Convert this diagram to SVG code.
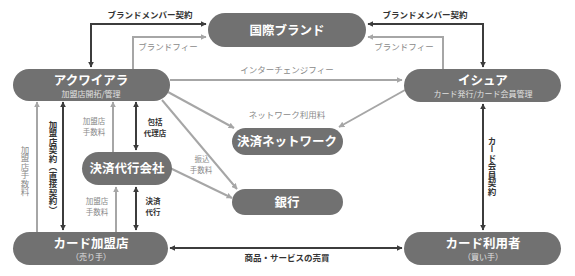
<svg xmlns="http://www.w3.org/2000/svg" width="575" height="276" viewBox="0 0 575 276">
<defs>
<marker id="ad" viewBox="0 0 10 10" refX="9" refY="5" markerWidth="6" markerHeight="6" markerUnits="userSpaceOnUse" orient="auto-start-reverse"><path d="M0,0 L10,5 L0,10 z" fill="#3c3c3c"/></marker>
<marker id="ag" viewBox="0 0 10 10" refX="9" refY="5" markerWidth="6" markerHeight="6" markerUnits="userSpaceOnUse" orient="auto-start-reverse"><path d="M0,0 L10,5 L0,10 z" fill="#a6a6a6"/></marker>
</defs>
<style>
text{font-family:"Noto Sans CJK JP","Noto Sans",sans-serif;text-anchor:middle}
.node rect{fill:#717171}
.t{fill:#fff;font-weight:bold;font-size:12.5px}
.s{fill:#e0e0e0;font-size:8px}
.d{fill:none;stroke:#3c3c3c;stroke-width:2}
.g{fill:none;stroke:#a6a6a6;stroke-width:2}
.ld{fill:#333;font-size:8.5px;font-weight:bold}
.lg{fill:#8a8a8a;font-size:8.5px}
.m{font-size:7.5px}
.v{writing-mode:vertical-rl}
</style>
<rect width="575" height="276" fill="#fff"/>
<g id="connectors">
<path class="d" d="M91,67 V24 H206" marker-start="url(#ad)" marker-end="url(#ad)"/>
<path class="g" d="M133,69 V37 H206" marker-end="url(#ag)"/>
<path class="d" d="M483,67 V24 H368" marker-start="url(#ad)" marker-end="url(#ad)"/>
<path class="g" d="M443,69 V37 H368" marker-end="url(#ag)"/>
<path class="g" d="M170,80 H402" marker-end="url(#ag)"/>
<path class="g" d="M168,92 L234,128" marker-end="url(#ag)"/>
<path class="g" d="M405,90 L339,127" marker-end="url(#ag)"/>
<path class="g" d="M162,100 L237,189" marker-end="url(#ag)"/>
<path class="g" d="M170,168 L232,198" marker-end="url(#ag)"/>
<path class="g" d="M37,232 V102" marker-end="url(#ag)"/>
<path class="d" d="M63,102 V230" marker-start="url(#ad)" marker-end="url(#ad)"/>
<path class="g" d="M113,152 V102" marker-end="url(#ag)"/>
<path class="d" d="M136,102 V150" marker-start="url(#ad)" marker-end="url(#ad)"/>
<path class="g" d="M116,232 V187" marker-end="url(#ag)"/>
<path class="d" d="M136,187 V230" marker-start="url(#ad)" marker-end="url(#ad)"/>
<path class="d" d="M483,104 V230" marker-start="url(#ad)" marker-end="url(#ad)"/>
<path class="d" d="M170,248 H402" marker-start="url(#ad)" marker-end="url(#ad)"/>
<text class="ld" x="150" y="18">ブランドメンバー契約</text>
<text class="lg" x="168" y="50">ブランドフィー</text>
<text class="ld" x="425" y="18">ブランドメンバー契約</text>
<text class="lg" x="404" y="50">ブランドフィー</text>
<text class="lg" x="287" y="73">インターチェンジフィー</text>
<text class="lg" x="287" y="118">ネットワーク利用料</text>
<text class="lg m" x="202" y="162">振込</text>
<text class="lg m" x="201" y="173">手数料</text>
<text class="lg v" x="25" y="171">加盟店手数料</text>
<text class="ld v" x="53" y="167">加盟店契約（直接契約）</text>
<text class="lg m" x="94" y="124">加盟店</text>
<text class="lg m" x="94" y="135">手数料</text>
<text class="ld m" x="155" y="125">包括</text>
<text class="ld m" x="155" y="136">代理店</text>
<text class="lg m" x="97" y="204">加盟店</text>
<text class="lg m" x="97" y="215">手数料</text>
<text class="ld m" x="153" y="204">決済</text>
<text class="ld m" x="153" y="215">代行</text>
<text class="ld v" x="492" y="166">カード会員契約</text>
<text class="ld" x="287" y="261">商品・サービスの売買</text>
</g>
<g id="brand" class="node"><rect x="208" y="13" width="158" height="34" rx="17"/><text class="t" x="287" y="35">国際ブランド</text></g>
<g id="acquirer" class="node"><rect x="13" y="69" width="157" height="32" rx="16"/><text class="t" x="91" y="85">アクワイアラ</text><text class="s" x="91" y="97">加盟店開拓/管理</text></g>
<g id="issuer" class="node"><rect x="404" y="69" width="157" height="33" rx="16.5"/><text class="t" x="483" y="85">イシュア</text><text class="s" x="483" y="97">カード発行/カード会員管理</text></g>
<g id="network" class="node"><rect x="232" y="128" width="111" height="27" rx="13.5"/><text class="t" x="287" y="146">決済ネットワーク</text></g>
<g id="bank" class="node"><rect x="232" y="189" width="111" height="26" rx="13"/><text class="t" x="287" y="207">銀行</text></g>
<g id="psp" class="node"><rect x="82" y="152" width="90" height="33" rx="16.5"/><text class="t" x="127" y="173">決済代行会社</text></g>
<g id="merchant" class="node"><rect x="13" y="232" width="155" height="33" rx="16.5"/><text class="t" x="91" y="248">カード加盟店</text><text class="s" x="91" y="260">（売り手）</text></g>
<g id="cardholder" class="node"><rect x="404" y="232" width="157" height="33" rx="16.5"/><text class="t" x="483" y="248">カード利用者</text><text class="s" x="483" y="260">（買い手）</text></g>
</svg>
